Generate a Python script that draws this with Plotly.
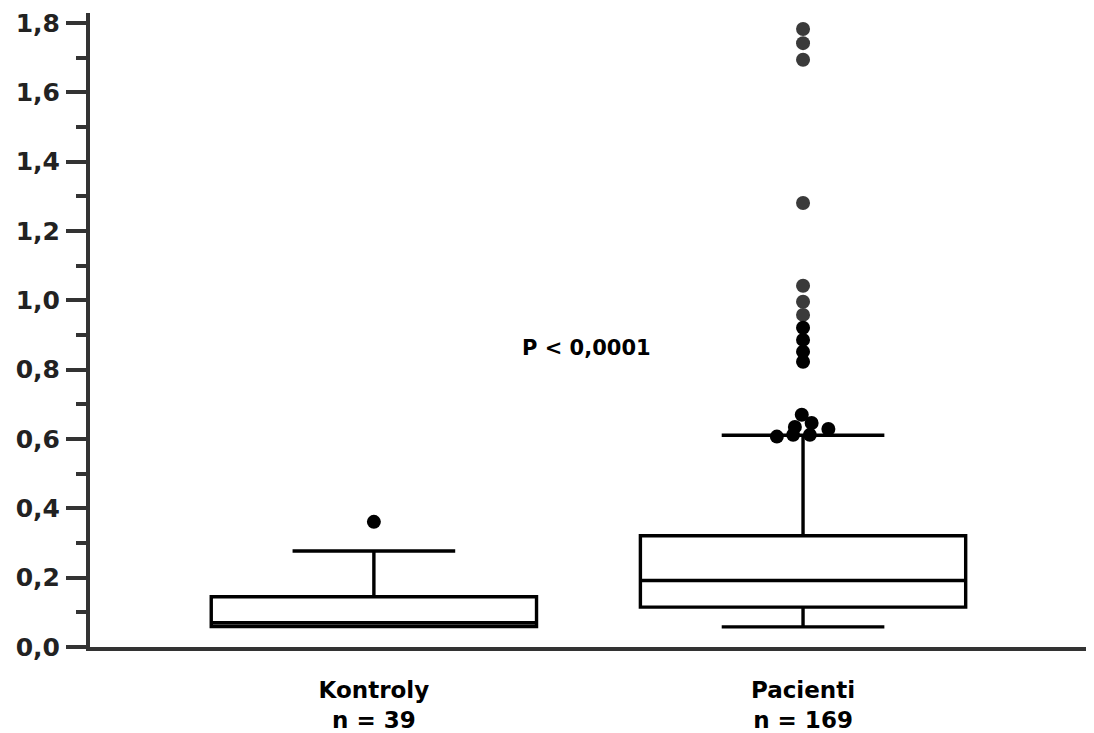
import plotly.graph_objects as go

# Box statistics
groups = ["Kontroly", "Pacienti"]
group_x = [0, 1]
n_labels = ["n = 39", "n = 169"]
q1 = [0.059, 0.115]
median = [0.070, 0.192]
q3 = [0.145, 0.321]
lower_fence = [0.059, 0.058]
upper_fence = [0.277, 0.611]

# Outliers
kontroly_out_y = [0.361]
kontroly_out_dx = [0.0]

pacienti_high_y = [1.783, 1.742, 1.694, 1.281, 1.042, 0.996, 0.958]
pacienti_high_dx = [0.0, 0.0, 0.0, 0.0, 0.0, 0.0, 0.0]
pacienti_low_y = [0.921, 0.886, 0.852, 0.823, 0.670, 0.646, 0.635, 0.629, 0.607, 0.612, 0.612]
pacienti_low_dx = [0.0, 0.0, 0.0, 0.0, -0.003, 0.020, -0.019, 0.059, -0.061, -0.023, 0.016]

p_text = "P < 0,0001"
p_pos = (0.496, 0.862)

FONT = "DejaVu Sans"
AX = "#333333"

fig = go.Figure()
fig.add_trace(go.Box(
    x=group_x, q1=q1, median=median, q3=q3,
    lowerfence=lower_fence, upperfence=upper_fence,
    width=0.758, whiskerwidth=0.5, boxpoints=False,
    line=dict(color="black", width=3.4), fillcolor="white",
    showlegend=False,
))
fig.add_trace(go.Scatter(
    x=[group_x[0] + d for d in kontroly_out_dx], y=kontroly_out_y,
    mode="markers", marker=dict(color="black", size=14), showlegend=False,
))
fig.add_trace(go.Scatter(
    x=[group_x[1] + d for d in pacienti_high_dx], y=pacienti_high_y,
    mode="markers", marker=dict(color="#3a3a3a", size=14), showlegend=False,
))
fig.add_trace(go.Scatter(
    x=[group_x[1] + d for d in pacienti_low_dx], y=pacienti_low_y,
    mode="markers", marker=dict(color="black", size=14), showlegend=False,
))

fig.add_annotation(
    x=p_pos[0], y=p_pos[1], text=p_text, showarrow=False,
    font=dict(family=FONT, size=21, color="black", weight="bold"),
)

# page body has an 8px margin, so the figure is sized to fit inside it
fig.update_layout(
    width=1086, height=725,
    margin=dict(l=82, r=0, t=5, b=86),
    paper_bgcolor="white", plot_bgcolor="white",
    separators=",.",
    font=dict(family=FONT, color="black"),
)
fig.update_xaxes(
    range=[-0.6615, 1.678], showgrid=False, zeroline=False, automargin=False,
    showline=True, linewidth=4, linecolor=AX,
    ticks="", tickvals=group_x,
    ticktext=[f"{g}<br>{n}" for g, n in zip(groups, n_labels)],
    tickfont=dict(family=FONT, size=23, color="black", weight="bold"),
    ticklabelstandoff=19,
)
fig.update_yaxes(
    range=[0, 1.829], showgrid=False, zeroline=False, automargin=False,
    showline=True, linewidth=4, linecolor=AX,
    ticks="outside", ticklen=20, tickwidth=4, tickcolor=AX,
    dtick=0.2, tick0=0, tickformat=".1f",
    tickfont=dict(family=FONT, size=25, color="#222222", weight="bold"),
    ticklabelstandoff=1,
    minor=dict(ticks="outside", ticklen=10, tickwidth=4, tickcolor=AX, dtick=0.1),
)

fig.write_html("out.html")
